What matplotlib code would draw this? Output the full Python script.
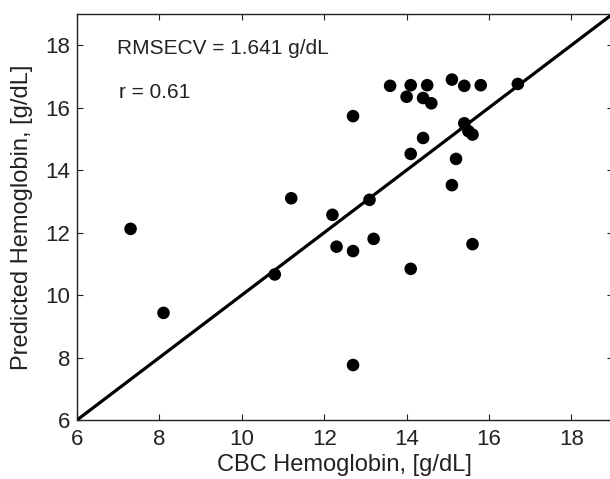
import matplotlib
matplotlib.use("Agg")
import matplotlib.pyplot as plt

plt.rcParams['font.family'] = ['Liberation Sans', 'DejaVu Sans']

cbc = [7.3, 8.1, 10.8, 11.2, 12.2, 12.3, 12.7, 12.7, 12.7, 13.1, 13.2, 13.6, 14.0, 14.1,
       14.1, 14.1, 14.4, 14.5, 14.6, 14.4, 15.1, 15.1, 15.2, 15.4, 15.4, 15.5, 15.6, 15.6,
       15.8, 16.7]
pred = [12.12, 9.43, 10.66, 13.1, 12.57, 11.55, 11.41, 15.73, 7.76, 13.05, 11.8, 16.7, 16.35, 16.72,
        14.52, 10.84, 16.31, 16.72, 16.14, 15.03, 16.9, 13.52, 14.36, 16.7, 15.5, 15.25, 15.14, 11.63,
        16.72, 16.76]
ident = [6, 19]
xticks = [6, 8, 10, 12, 14, 16, 18]
yticks = [6, 8, 10, 12, 14, 16, 18]
rmsecv_text = "RMSECV = 1.641 g/dL"
r_text = "r = 0.61"

fig = plt.figure(figsize=(6.1, 4.79), dpi=100)
ax = fig.add_axes([77/610, 59/479, 535.6/610, 406/479])
ax.plot(ident, ident, color='black', lw=2.3, zorder=2)
ax.scatter(cbc, pred, s=82, color='black', edgecolors='none', zorder=3)
ax.set_xlim(6, 19)
ax.set_ylim(6, 19)
ax.set_xticks(xticks)
ax.set_yticks(yticks)
ax.tick_params(direction='in', top=True, right=True, length=4, width=0.8,
               labelsize=16, colors='#222222', labelcolor='#222222')
ax.tick_params(axis='x', pad=6.5)
ax.tick_params(axis='y', pad=5)
for s in ax.spines.values():
    s.set_linewidth(1.0)
    s.set_color('#222222')
ax.set_xlabel("CBC Hemoglobin, [g/dL]", fontsize=17, labelpad=3, color='#222222')
ax.set_ylabel("Predicted Hemoglobin, [g/dL]", fontsize=17, labelpad=8.5, color='#222222')
ax.text(6.97, 17.9, rmsecv_text, fontsize=15, va='center', ha='left', color='#222222')
ax.text(7.02, 16.5, r_text, fontsize=15, va='center', ha='left', color='#222222')
fig.savefig("out.png", dpi=100)
